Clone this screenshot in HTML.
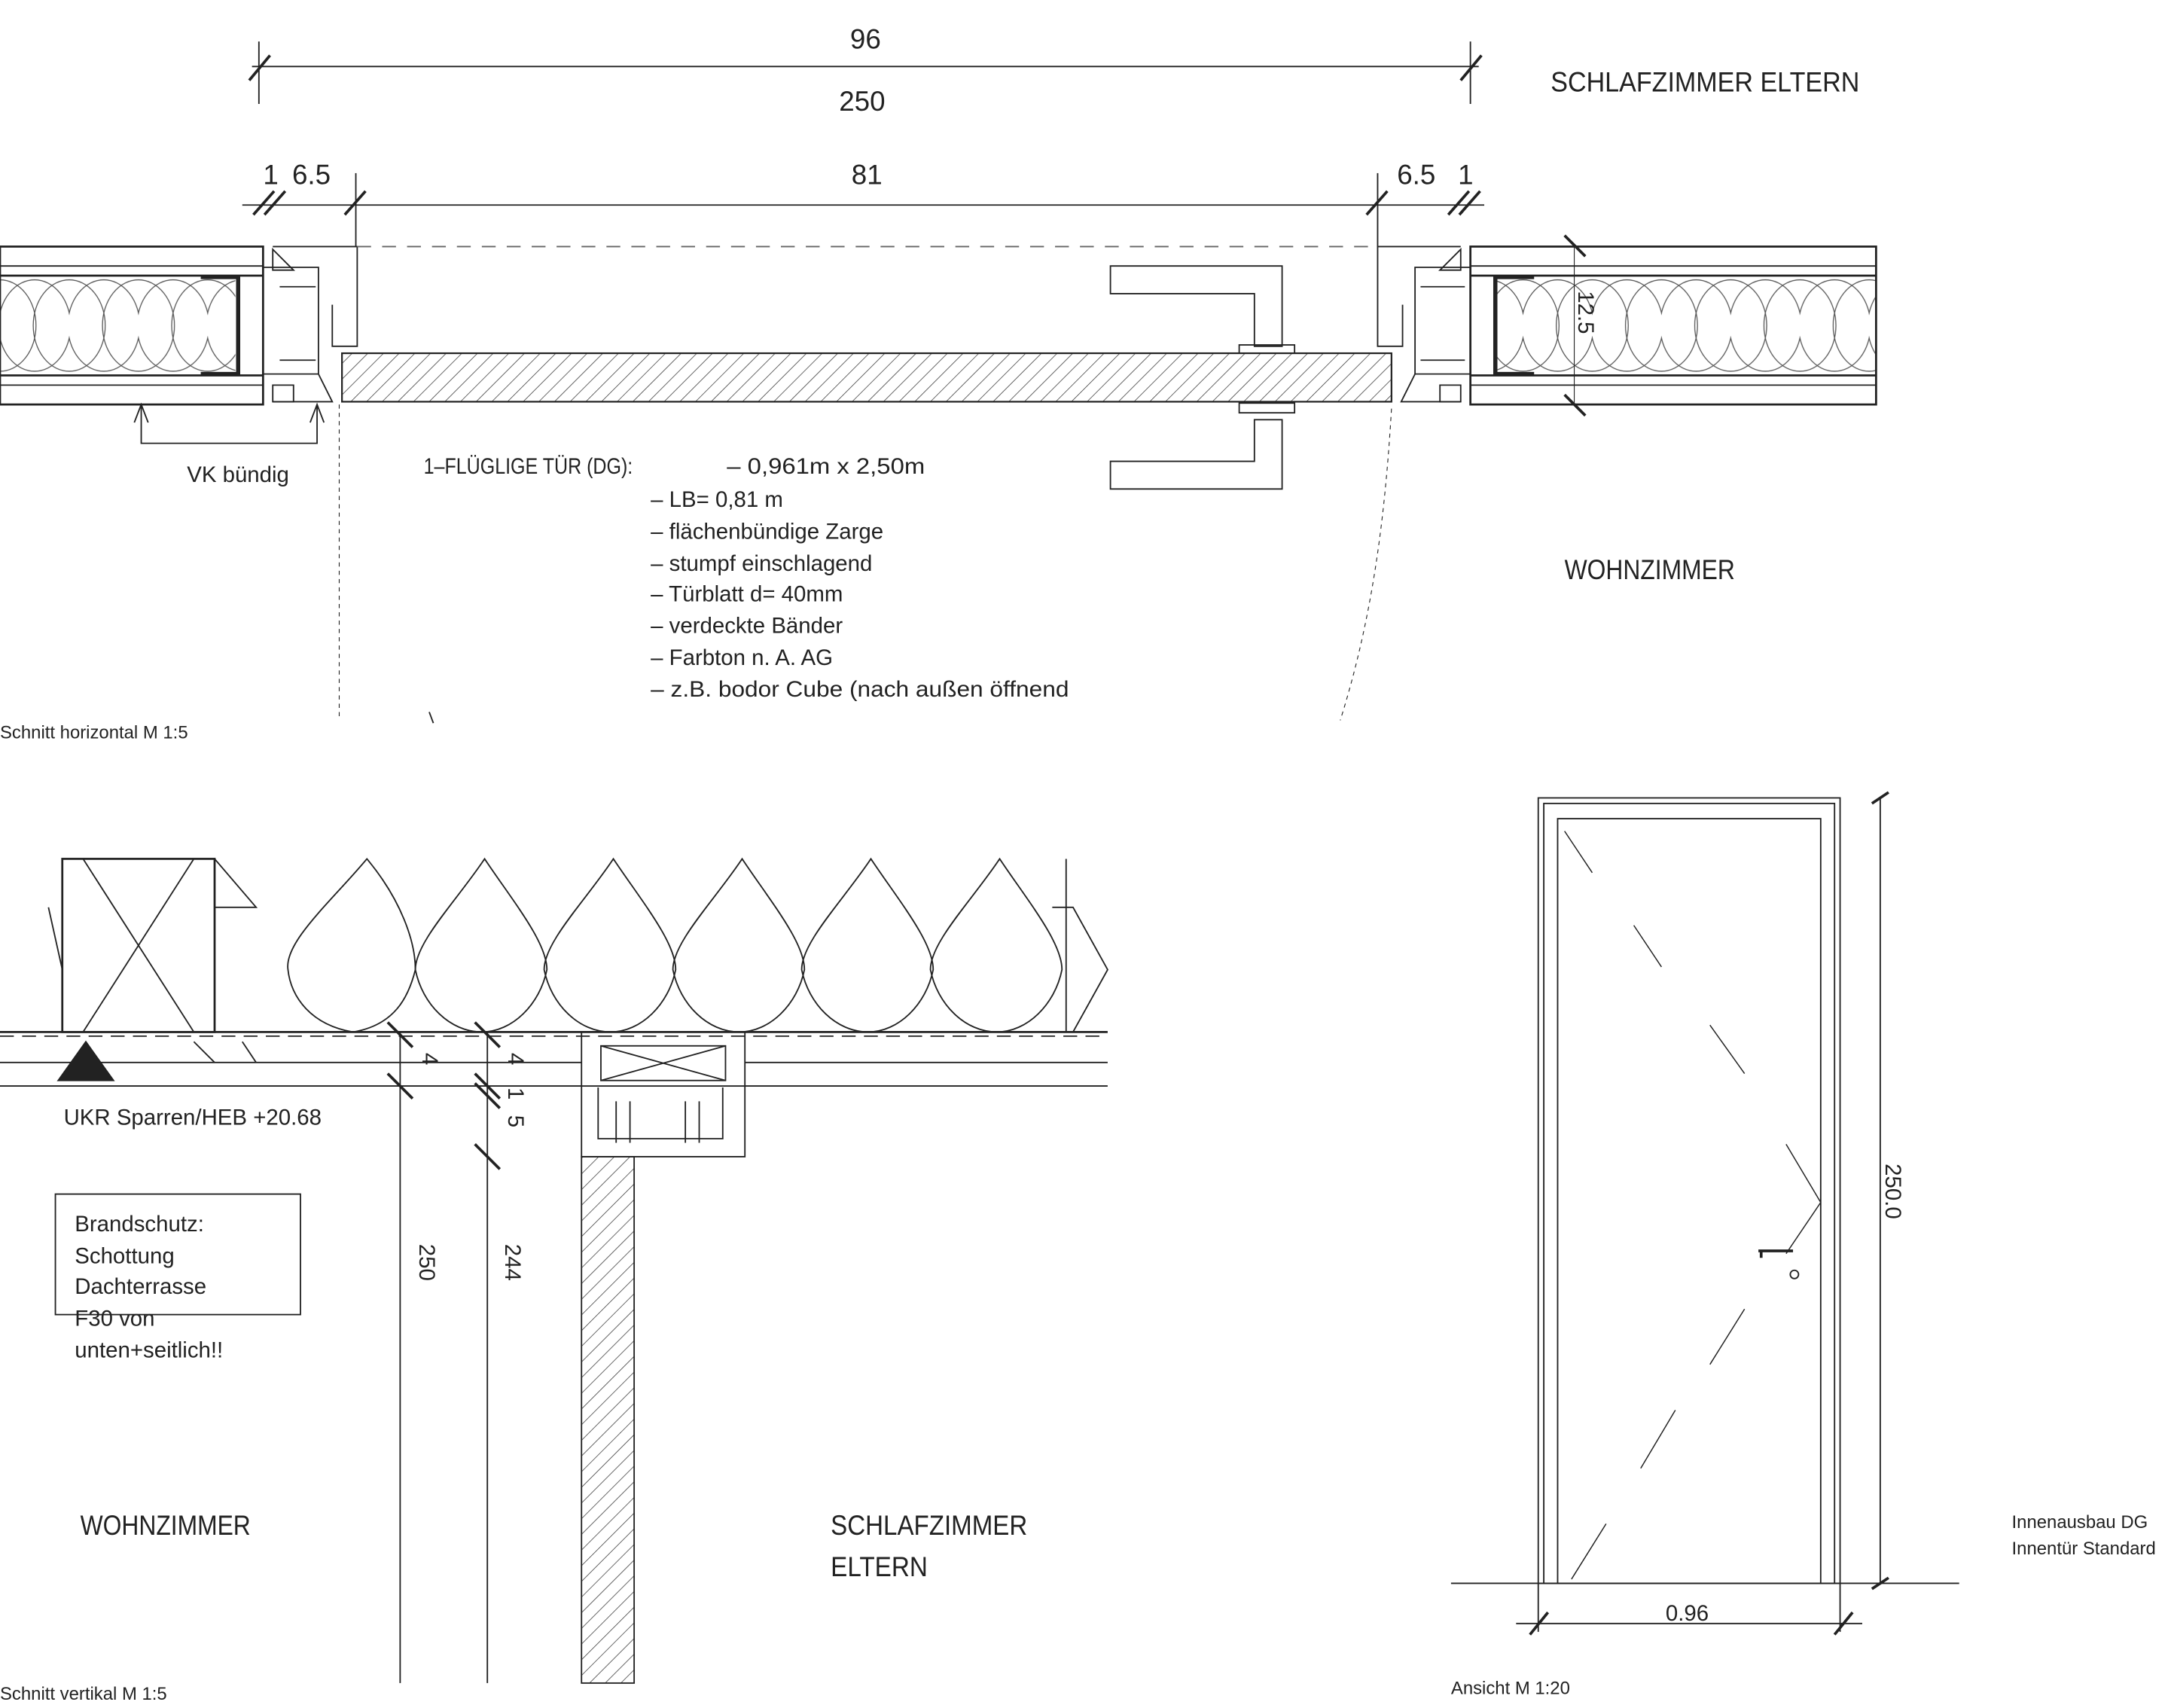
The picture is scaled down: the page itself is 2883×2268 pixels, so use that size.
<!DOCTYPE html>
<html><head><meta charset="utf-8"><style>
html,body{margin:0;padding:0;background:#fff}
svg{display:block}
text{font-family:"Liberation Sans",sans-serif;fill:#222}
</style></head><body>
<svg width="2883" height="2268" viewBox="0 0 1568 1233" preserveAspectRatio="none" xmlns="http://www.w3.org/2000/svg">
<defs>
<pattern id="h" width="8" height="8" patternUnits="userSpaceOnUse" patternTransform="rotate(45)">
<line x1="0" y1="0" x2="0" y2="8" stroke="#333" stroke-width="0.8"/></pattern>
<pattern id="ins" x="0" y="200" width="50" height="70" patternUnits="userSpaceOnUse">
<ellipse cx="25" cy="35" rx="26" ry="33" fill="none" stroke="#555" stroke-width="0.7"/>
<ellipse cx="0" cy="35" rx="26" ry="33" fill="none" stroke="#555" stroke-width="0.7"/>
<ellipse cx="50" cy="35" rx="26" ry="33" fill="none" stroke="#555" stroke-width="0.7"/></pattern>
</defs>
<g stroke="#222" fill="none" stroke-width="1">
<line x1="182" y1="48" x2="1068" y2="48"/>
<line x1="187" y1="30" x2="187" y2="75"/><line x1="1062" y1="30" x2="1062" y2="75"/>
<line x1="180" y1="58" x2="195" y2="40" stroke-width="2"/><line x1="1055" y1="58" x2="1070" y2="40" stroke-width="2"/>
<line x1="175" y1="148" x2="1072" y2="148"/>
<line x1="183" y1="155" x2="198" y2="138" stroke-width="2"/><line x1="191" y1="155" x2="206" y2="138" stroke-width="2"/>
<line x1="249" y1="155" x2="264" y2="138" stroke-width="2"/><line x1="987" y1="155" x2="1002" y2="138" stroke-width="2"/>
<line x1="1046" y1="155" x2="1061" y2="138" stroke-width="2"/><line x1="1054" y1="155" x2="1069" y2="138" stroke-width="2"/>
<line x1="257" y1="125" x2="257" y2="178"/><line x1="995" y1="125" x2="995" y2="178"/>
<rect x="0" y="200" width="170" height="70" fill="url(#ins)" stroke="none"/>
<rect x="1080" y="200" width="275" height="70" fill="url(#ins)" stroke="none"/>
<rect x="0" y="178" width="190" height="114" stroke-width="1.5"/>
<line x1="0" y1="192" x2="190" y2="192"/><line x1="0" y1="278" x2="190" y2="278"/>
<line x1="0" y1="199" x2="190" y2="199" stroke-width="1.5"/><line x1="0" y1="271" x2="190" y2="271" stroke-width="1.5"/>
<path d="M145,200 H172 V270 H145" stroke-width="3"/>
<rect x="1062" y="178" width="293" height="114" stroke-width="1.5"/>
<line x1="1062" y1="192" x2="1355" y2="192"/><line x1="1062" y1="278" x2="1355" y2="278"/>
<line x1="1062" y1="199" x2="1355" y2="199" stroke-width="1.5"/><line x1="1062" y1="271" x2="1355" y2="271" stroke-width="1.5"/>
<path d="M1108,200 H1080 V270 H1108" stroke-width="3"/>
<path d="M197,178 H258 V250 H240 V220"/><path d="M197,180 V195 H212 Z"/><path d="M197,278 H212 V290 H197 Z"/>
<path d="M190,193 H230 V270 H190"/><path d="M230,270 L240,290 H197"/>
<line x1="202" y1="207" x2="228" y2="207"/><line x1="202" y1="260" x2="228" y2="260"/>
<path d="M1055,178 H995 V250 H1013 V220"/><path d="M1055,180 V195 H1040 Z"/><path d="M1055,278 H1040 V290 H1055 Z"/>
<path d="M1062,193 H1022 V270 H1062"/><path d="M1022,270 L1012,290 H1055"/>
<line x1="1026" y1="207" x2="1058" y2="207"/><line x1="1026" y1="260" x2="1058" y2="260"/>
<line x1="258" y1="178" x2="995" y2="178" stroke-dasharray="10,8" stroke="#666"/>
<rect x="247" y="255" width="758" height="35" fill="url(#h)" stroke-width="1.2"/>
<path d="M802,192 H926 V250 H906 V212 H802 Z"/><rect x="895" y="249" width="40" height="6"/>
<path d="M802,353 H926 V303 H906 V333 H802 Z"/><rect x="895" y="291" width="40" height="7"/>
<path d="M102,292 V320 H229 V292"/><path d="M97,305 L102,292 L107,305 M224,305 L229,292 L234,305"/>
<line x1="245" y1="292" x2="245" y2="520" stroke-dasharray="3,3" stroke-width="0.6"/>
<path d="M1005,295 C1000,380 990,450 968,520" stroke-dasharray="3,3" stroke-width="0.6"/>
<path d="M1130,170 L1145,185 M1130,285 L1145,300" stroke-width="2"/>
<line x1="1137" y1="178" x2="1137" y2="292" stroke-width="0.6"/>
<path d="M310,514 L313,522"/>
<rect x="45" y="620" width="110" height="125" stroke-width="1.5"/>
<path d="M60,620 L140,745 M140,620 L60,745"/>
<path d="M155,620 L185,655 H155 M35,655 L45,700 M760,655 H775 L800,700 L775,745"/>
<line x1="770" y1="620" x2="770" y2="745"/>
<path d="M208,700 C205,680 240,650 265,620 C290,650 300,680 300,700 C295,720 285,740 255,745 C225,740 210,720 208,700 Z" fill="none"/>
<g id="d"><path d="M300,700 C300,680 330,650 350,620 C370,650 395,680 395,700 C390,725 370,745 348,745 C325,745 305,725 300,700 Z"/></g>
<use href="#d" x="93"/><use href="#d" x="186"/><use href="#d" x="279"/><use href="#d" x="372"/>
<line x1="0" y1="745" x2="800" y2="745" stroke-width="1.5"/>
<line x1="0" y1="748" x2="800" y2="748" stroke-dasharray="10,6"/>
<line x1="0" y1="767" x2="420" y2="767"/><line x1="0" y1="784" x2="420" y2="784"/>
<line x1="538" y1="767" x2="800" y2="767"/><line x1="538" y1="784" x2="800" y2="784"/>
<polygon points="42,780 62,752 82,780" fill="#222"/>
<path d="M140,752 L155,767 M175,752 L185,767"/>
<rect x="420" y="745" width="118" height="39"/>
<rect x="434" y="755" width="90" height="25"/><path d="M434,755 L524,780 M524,755 L434,780"/>
<path d="M420,784 V835 H538 V784"/><path d="M432,785 V822 H522 V785"/>
<path d="M445,795 V825 M455,795 V825 M495,795 V825 M505,795 V825"/>
<rect x="420" y="835" width="38" height="380" fill="url(#h)"/>
<line x1="289" y1="745" x2="289" y2="1215"/><line x1="352" y1="745" x2="352" y2="1215"/>
<path d="M280,738 L298,756 M280,775 L298,793 M343,738 L361,756 M343,775 L361,793 M343,782 L361,800 M343,826 L361,844" stroke-width="2"/>
<rect x="40" y="862" width="177" height="87"/>
<line x1="1048" y1="1143" x2="1415" y2="1143"/>
<rect x="1111" y="576" width="218" height="567"/>
<rect x="1115" y="580" width="210" height="563"/>
<rect x="1125" y="591" width="190" height="552"/>
<path d="M1130,600 L1150,630 M1180,668 L1200,698 M1235,740 L1260,775 M1290,826 L1315,868 L1290,905 M1260,945 L1235,985 M1210,1018 L1185,1060 M1160,1100 L1135,1140" stroke-width="0.8"/>
<path d="M1270,903 H1295 M1272,903 V908" stroke-width="2"/><circle cx="1296" cy="920" r="3"/>
<line x1="1358" y1="576" x2="1358" y2="1143"/>
<path d="M1352,580 L1364,572 M1352,1147 L1364,1139" stroke-width="2"/>
<line x1="1095" y1="1172" x2="1345" y2="1172"/>
<path d="M1105,1180 L1118,1164 M1325,1180 L1338,1164" stroke-width="2"/>
<line x1="1111" y1="1143" x2="1111" y2="1178"/><line x1="1329" y1="1143" x2="1329" y2="1178"/>
</g>
<g font-size="20">
<text x="614" y="35">96</text>
<text x="606" y="80">250</text>
<text x="1120" y="66" textLength="223" lengthAdjust="spacingAndGlyphs">SCHLAFZIMMER ELTERN</text>
<text x="190" y="133">1</text><text x="211" y="133">6.5</text>
<text x="615" y="133">81</text>
<text x="1009" y="133">6.5</text><text x="1053" y="133">1</text>
<text x="1130" y="418" textLength="123" lengthAdjust="spacingAndGlyphs">WOHNZIMMER</text>
<text x="58" y="1108" textLength="123" lengthAdjust="spacingAndGlyphs">WOHNZIMMER</text>
<text x="600" y="1108" textLength="142" lengthAdjust="spacingAndGlyphs">SCHLAFZIMMER</text>
<text x="600" y="1138" textLength="70" lengthAdjust="spacingAndGlyphs">ELTERN</text>
</g>
<g font-size="16">
<text x="135" y="348">VK bündig</text>
<text x="306" y="342" textLength="151" lengthAdjust="spacingAndGlyphs">1–FLÜGLIGE TÜR (DG):</text>
<text x="525" y="342" textLength="143" lengthAdjust="spacingAndGlyphs">– 0,961m x 2,50m</text>
<text x="470" y="366">– LB= 0,81 m</text>
<text x="470" y="389">– flächenbündige Zarge</text>
<text x="470" y="412">– stumpf einschlagend</text>
<text x="470" y="434">– Türblatt d= 40mm</text>
<text x="470" y="457">– verdeckte Bänder</text>
<text x="470" y="480">– Farbton n. A. AG</text>
<text x="470" y="503" textLength="302" lengthAdjust="spacingAndGlyphs">– z.B. bodor Cube (nach außen öffnend</text>
<text x="46" y="812">UKR Sparren/HEB +20.68</text>
<text x="54" y="889">Brandschutz:</text>
<text x="54" y="912">Schottung</text>
<text x="54" y="934">Dachterrasse</text>
<text x="54" y="957">F30 von</text>
<text x="54" y="980">unten+seitlich!!</text>
<text x="1203" y="1170">0.96</text>
<text transform="translate(1140,210) rotate(90)">12.5</text>
<text transform="translate(303,898) rotate(90)">250</text>
<text transform="translate(365,898) rotate(90)">244</text>
<text transform="translate(305,760) rotate(90)">4</text>
<text transform="translate(367,760) rotate(90)">4</text>
<text transform="translate(367,785) rotate(90)">1</text>
<text transform="translate(367,805) rotate(90)">5</text>
<text transform="translate(1362,840) rotate(90)">250.0</text>
</g>
<g font-size="13">
<text x="0" y="533">Schnitt horizontal M 1:5</text>
<text x="0" y="1227">Schnitt vertikal M 1:5</text>
<text x="1048" y="1223">Ansicht M 1:20</text>
<text x="1453" y="1103">Innenausbau DG</text>
<text x="1453" y="1122">Innentür Standard</text>
</g>
</svg>
</body></html>
